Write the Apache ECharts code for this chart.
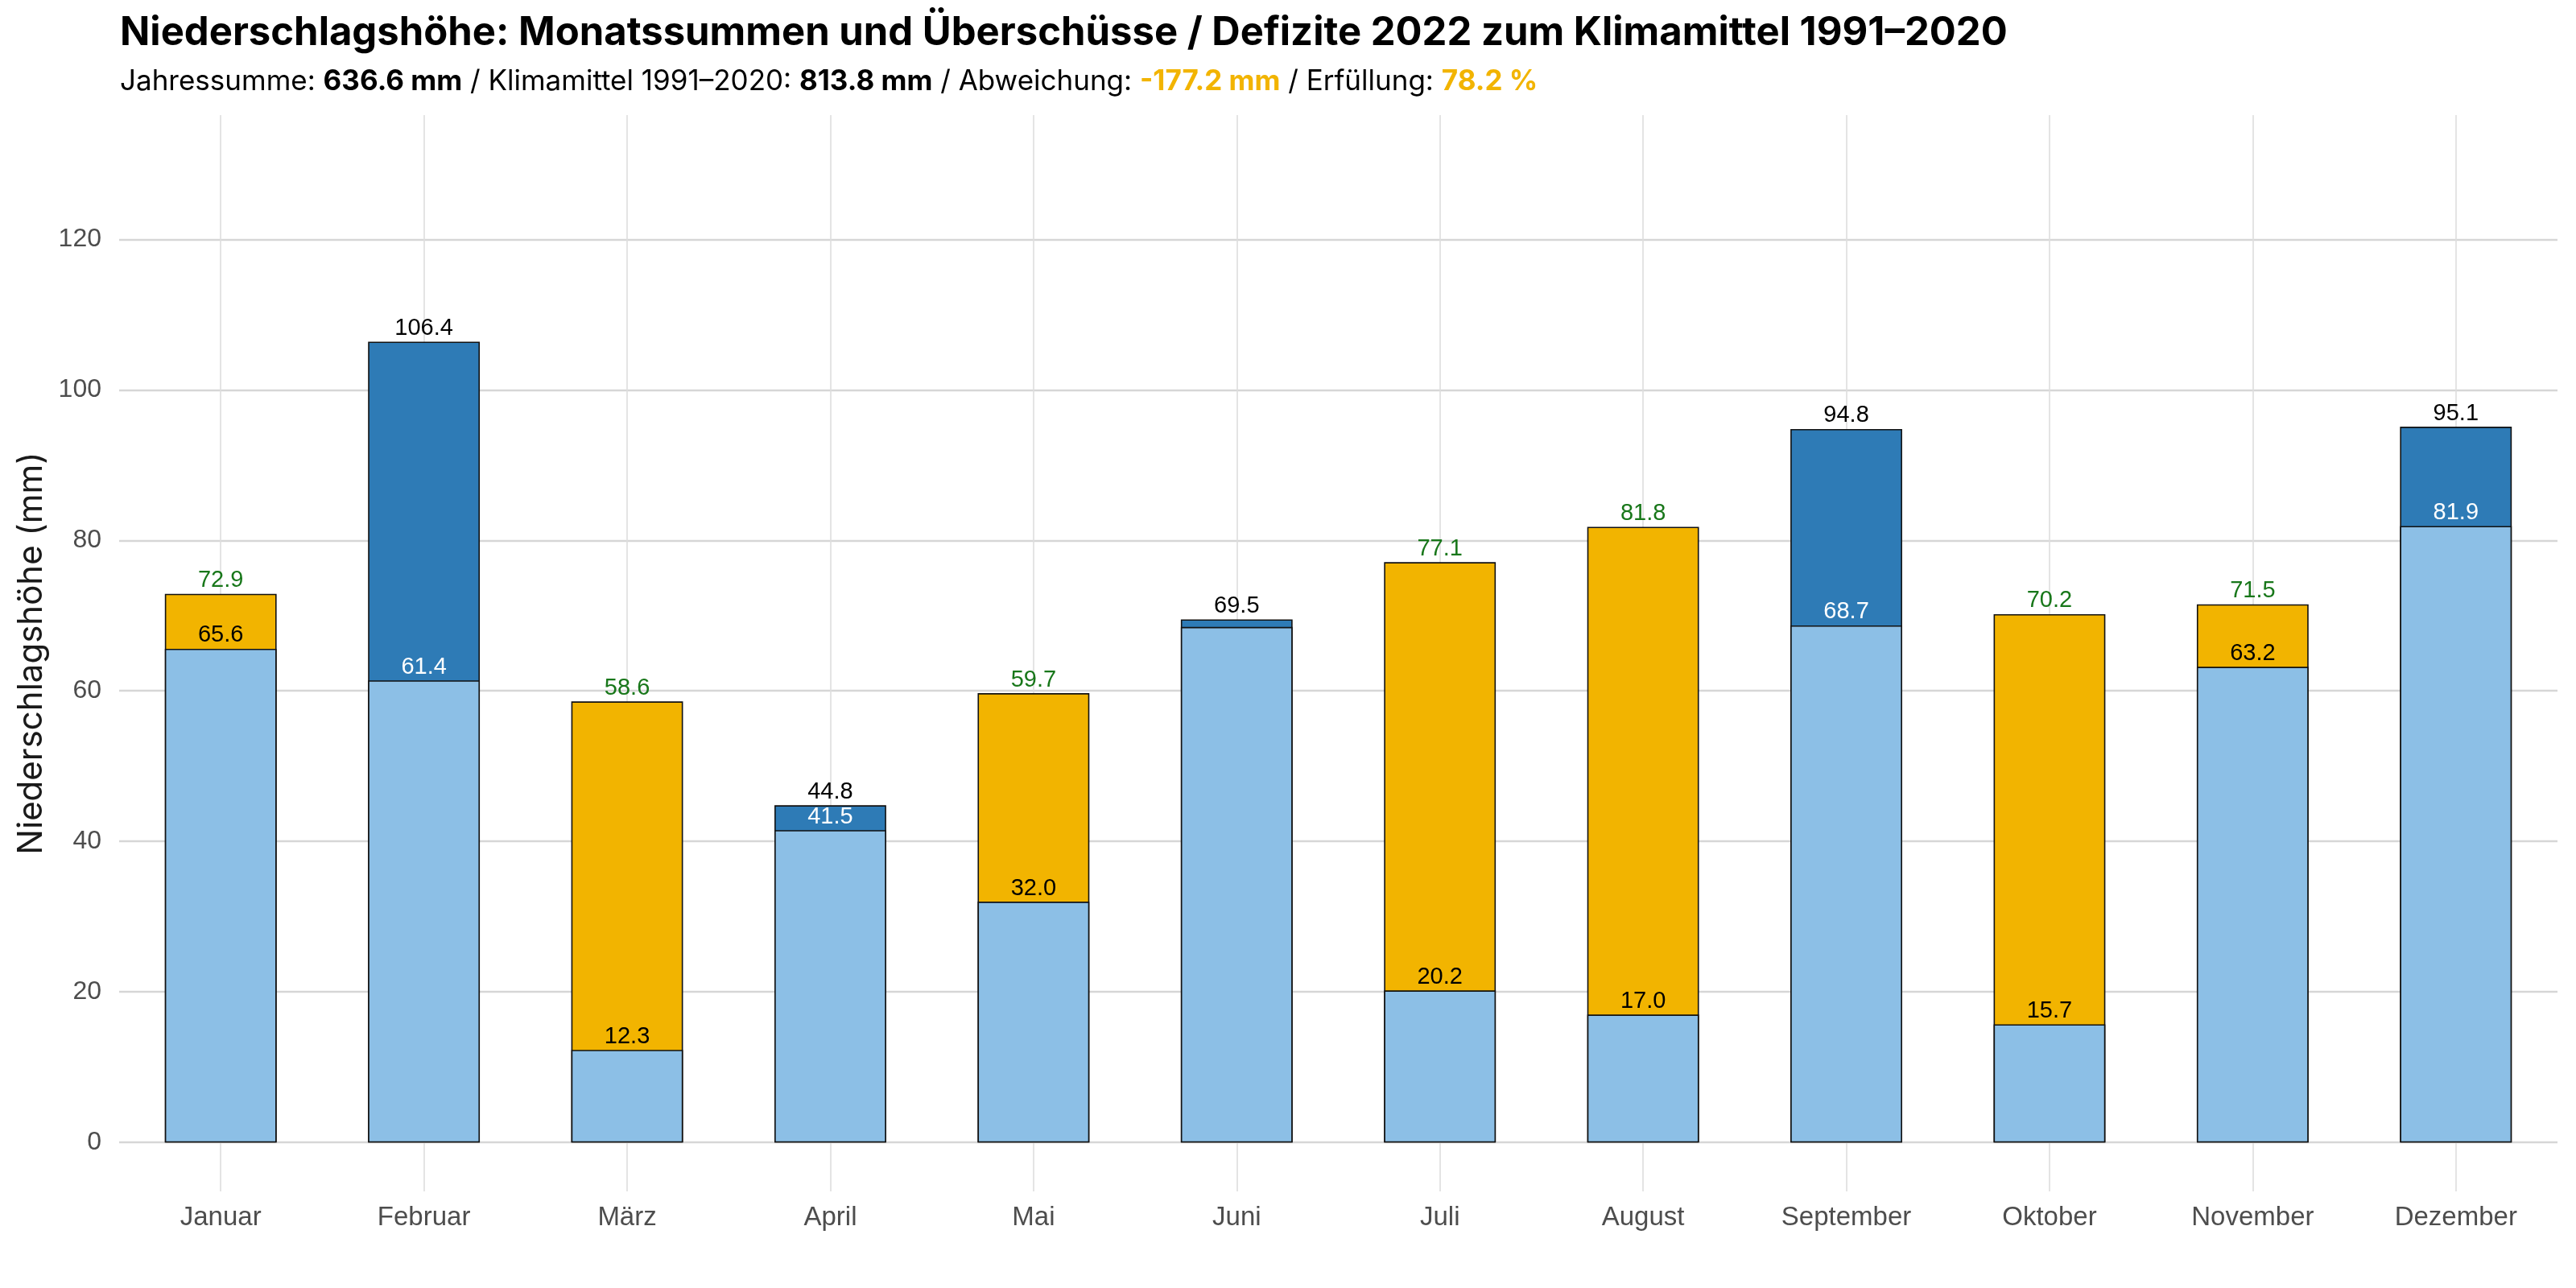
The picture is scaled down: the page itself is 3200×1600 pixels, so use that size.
<!DOCTYPE html>
<html>
<head>
<meta charset="utf-8">
<title>Niederschlagshöhe 2022</title>
<script src="https://cdn.jsdelivr.net/npm/echarts@6/dist/echarts.min.js"></script>
<style>
  html, body { margin: 0; padding: 0; background: #fff; }
  #chart { width: 3200px; height: 1600px; }
</style>
</head>
<body>
<div id="chart"></div>
<script>
// Monatswerte 2022 und Klimamittel 1991–2020 (mm)
var months = ['Januar', 'Februar', 'März', 'April', 'Mai', 'Juni', 'Juli', 'August', 'September', 'Oktober', 'November', 'Dezember'];
var actual = [65.6, 106.4, 12.3, 44.8, 32.0, 69.5, 20.2, 17.0, 94.8, 15.7, 63.2, 95.1];
var normal = [72.9, 61.4, 58.6, 41.5, 59.7, 68.5, 77.1, 81.8, 68.7, 70.2, 71.5, 81.9];
var yTicks = [0, 20, 40, 60, 80, 100, 120];
var xTicks = [1, 2, 3, 4, 5, 6, 7, 8, 9, 10, 11, 12];

var C_BASE = '#8cbfe6', C_PLUS = '#2e7bb6', C_MINUS = '#f2b400', C_GREEN = '#18771a';
var labelFont = 'Liberation Sans';
var textFont = 'Inter';

var sumA = actual.reduce(function(s, v){ return s + v; }, 0);
var sumN = normal.reduce(function(s, v){ return s + v; }, 0);
var diff = sumA - sumN;
var pct = sumA / sumN * 100;

// Gesamthöhe (Max aus Ist/Mittel) hinten, Basis (Min) davor
var topData = [], baseData = [];
months.forEach(function(m, i){
  var a = actual[i], n = normal[i], x = xTicks[i];
  var over = a > n;
  topData.push({
    value: [x, Math.max(a, n)],
    itemStyle: { color: over ? C_PLUS : C_MINUS },
    label: { color: over ? '#000' : C_GREEN, formatter: (over ? a : n).toFixed(1) }
  });
  baseData.push({
    value: [x, Math.min(a, n)],
    label: {
      show: Math.abs(a - n) >= 2,
      color: over ? '#fff' : '#000',
      formatter: (over ? n : a).toFixed(1)
    }
  });
});

var barStyle = { borderColor: '#111', borderWidth: 1.6 };
var barLabel = { show: true, position: 'top', distance: 2, fontFamily: labelFont, fontSize: 29 };

var chart = echarts.init(document.getElementById('chart'));
chart.setOption({
  backgroundColor: '#fff',
  animation: false,
  title: [{
    text: 'Niederschlagshöhe: Monatssummen und Überschüsse / Defizite 2022 zum Klimamittel 1991–2020',
    left: 149, top: 17, padding: 0,
    textStyle: { fontFamily: textFont, fontWeight: 'bold', fontSize: 49, color: '#000' }
  }, {
    text: '{r|Jahressumme: }{b|' + sumA.toFixed(1) + ' mm}{r| / Klimamittel 1991–2020: }{b|' + sumN.toFixed(1) +
          ' mm}{r| / Abweichung: }{o|' + diff.toFixed(1) + ' mm}{r| / Erfüllung: }{o|' + pct.toFixed(1) + ' %}',
    left: 149, top: 84, padding: 0,
    textStyle: {
      fontFamily: textFont, fontSize: 35, fontWeight: 'normal', color: '#000',
      rich: {
        r: { fontFamily: textFont, fontSize: 35, fontWeight: 'normal', color: '#000' },
        b: { fontFamily: textFont, fontSize: 35, fontWeight: 'bold', color: '#000' },
        o: { fontFamily: textFont, fontSize: 35, fontWeight: 'bold', color: C_MINUS }
      }
    }
  }],
  grid: { left: 148, right: 23, top: 143, bottom: 120, containLabel: false },
  xAxis: {
    type: 'value', min: 0.5, max: 12.5,
    axisLine: { show: false, onZero: false },
    axisTick: { show: false, customValues: xTicks },
    splitLine: { show: true, lineStyle: { color: '#dedede', width: 1.6 } },
    axisLabel: {
      customValues: xTicks, margin: 16,
      fontFamily: labelFont, fontSize: 33, color: '#4d4d4d',
      formatter: function(v){ return months[Math.round(v) - 1]; }
    }
  },
  yAxis: {
    type: 'value', min: -6.5, max: 136.5,
    name: 'Niederschlagshöhe (mm)', nameLocation: 'middle', nameGap: 88, nameRotate: 90,
    nameTextStyle: { fontFamily: textFont, fontSize: 42, color: '#1a1a1a' },
    axisLine: { show: false },
    axisTick: { show: false, customValues: yTicks },
    splitLine: { show: true, lineStyle: { color: '#d6d6d6', width: 2.4 } },
    axisLabel: {
      customValues: yTicks, margin: 22,
      fontFamily: labelFont, fontSize: 32, color: '#4d4d4d'
    }
  },
  series: [{
    type: 'bar', name: 'Gesamt', barWidth: '55%', barGap: '-100%',
    itemStyle: barStyle, label: barLabel, data: topData
  }, {
    type: 'bar', name: 'Basis', barWidth: '55%', barGap: '-100%',
    itemStyle: Object.assign({ color: C_BASE }, barStyle),
    label: barLabel, data: baseData
  }]
});
</script>
</body>
</html>
